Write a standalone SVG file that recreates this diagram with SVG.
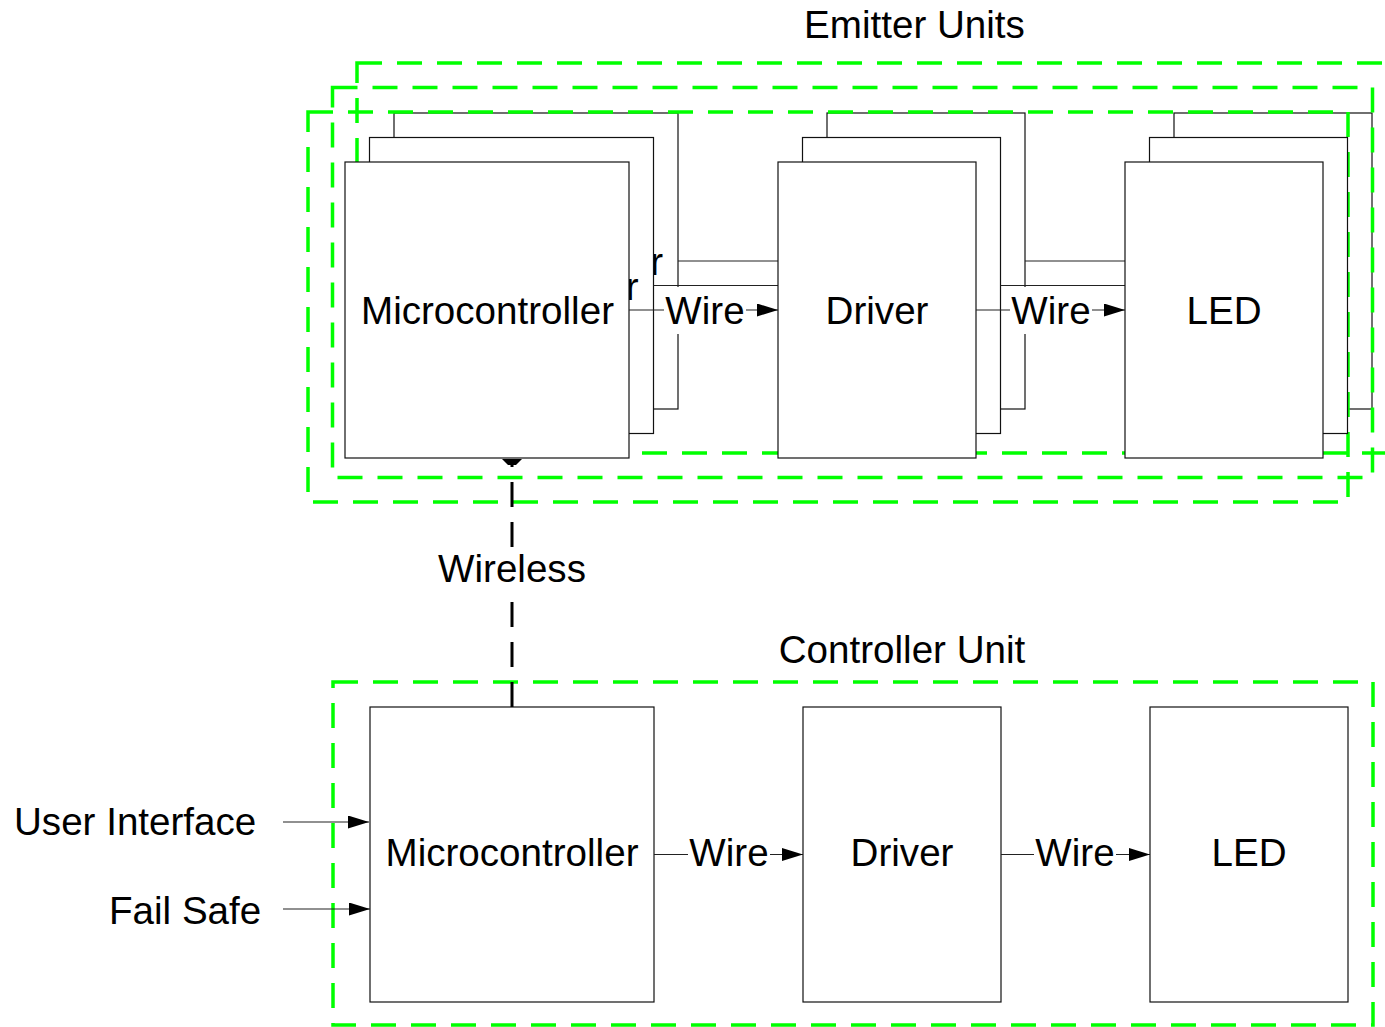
<svg xmlns="http://www.w3.org/2000/svg" width="1385" height="1027" viewBox="0 0 1385 1027">
<defs>
<marker id="arr" markerUnits="userSpaceOnUse" markerWidth="22" markerHeight="14" refX="21" refY="6.5" orient="auto">
<path d="M0,0 L21,6.5 L0,13 z" fill="#000"/>
</marker>
<style>
.box{fill:#fff;stroke:#111;stroke-width:1.2}
.grp{fill:none;stroke:#00ff00;stroke-width:3.5;stroke-dasharray:25 15}
.wire{fill:none;stroke:#222;stroke-width:1.2;marker-end:url(#arr)}
.t{font-family:"Liberation Sans",Arial,sans-serif;font-size:38.6px;fill:#000;text-anchor:middle}
.bg{fill:#fff}
</style>
</defs>
<rect width="1385" height="1027" fill="#fff"/>

<!-- titles -->
<text class="t" x="914.5" y="37.5">Emitter Units</text>
<text class="t" x="902" y="663">Controller Unit</text>

<!-- back emitter layer (C) -->
<g transform="translate(49,-49)">
<g id="emitter3-micro"><rect class="box" x="345" y="162" width="284" height="296"/><text class="t" x="614" y="324" style="text-anchor:end">r</text></g>
<g id="emitter3-driver"><rect class="box" x="778" y="162" width="198" height="296"/></g>
<g id="emitter3-led"><rect class="box" x="1125" y="162" width="198" height="296"/></g>
<g id="connectors-emitter3">
<line class="wire" x1="629" y1="310" x2="778" y2="310"/>
<line class="wire" x1="976" y1="310" x2="1125" y2="310"/>
</g>
</g>

<!-- group frames -->
<g id="emitter-frames">
<rect class="grp" x="357" y="63" width="1040" height="390"/>
<rect class="grp" x="332.5" y="87.5" width="1040" height="390"/>
<rect class="grp" x="308" y="112" width="1040" height="390"/>
</g>

<!-- middle emitter layer (B) -->
<g transform="translate(24.5,-24.5)">
<g id="emitter2-micro"><rect class="box" x="345" y="162" width="284" height="296"/><text class="t" x="614" y="324" style="text-anchor:end">r</text></g>
<g id="emitter2-driver"><rect class="box" x="778" y="162" width="198" height="296"/></g>
<g id="emitter2-led"><rect class="box" x="1125" y="162" width="198" height="296"/></g>
<g id="connectors-emitter2">
<line class="wire" x1="629" y1="310" x2="778" y2="310"/>
<line class="wire" x1="976" y1="310" x2="1125" y2="310"/>
</g>
</g>

<!-- front emitter layer (A) -->
<g id="emitter1-micro"><rect class="box" x="345" y="162" width="284" height="296"/><text class="t" x="487.5" y="324">Microcontroller</text></g>
<g id="emitter1-driver"><rect class="box" x="778" y="162" width="198" height="296"/><text class="t" x="877" y="324">Driver</text></g>
<g id="emitter1-led"><rect class="box" x="1125" y="162" width="198" height="296"/><text class="t" x="1224" y="324">LED</text></g>
<g id="connectors-emitter1">
<line class="wire" x1="629" y1="310" x2="778" y2="310"/>
<rect class="bg" x="664" y="287" width="82" height="47"/>
<text class="t" x="705" y="324">Wire</text>
<line class="wire" x1="976" y1="310" x2="1125" y2="310"/>
<rect class="bg" x="1010" y="287" width="82" height="47"/>
<text class="t" x="1051" y="324">Wire</text>
</g>

<!-- controller unit -->
<g id="controller-frame"><rect class="grp" x="333" y="682" width="1040" height="343"/></g>
<g id="controller-micro"><rect class="box" x="370" y="707" width="284" height="295"/><text class="t" x="512" y="866">Microcontroller</text></g>
<g id="controller-driver"><rect class="box" x="803" y="707" width="198" height="295"/><text class="t" x="902" y="866">Driver</text></g>
<g id="controller-led"><rect class="box" x="1150" y="707" width="198" height="295"/><text class="t" x="1249" y="866">LED</text></g>
<g id="input-labels">
<text class="t" x="14" y="835" style="text-anchor:start">User Interface</text>
<text class="t" x="109" y="924" style="text-anchor:start">Fail Safe</text>
</g>

<g id="connectors-controller">
<line class="wire" x1="654" y1="854.5" x2="803" y2="854.5"/>
<rect class="bg" x="688" y="832" width="82" height="47"/>
<text class="t" x="729" y="866">Wire</text>
<line class="wire" x1="1001" y1="854.5" x2="1150" y2="854.5"/>
<rect class="bg" x="1034" y="832" width="82" height="47"/>
<text class="t" x="1075" y="866">Wire</text>
<line class="wire" x1="283" y1="822" x2="369" y2="822"/>
<line class="wire" x1="283" y1="909" x2="370" y2="909"/>
<line x1="512" y1="707" x2="512" y2="460" stroke="#000" stroke-width="3" stroke-dasharray="25 15"/>
<polygon points="502,459 522,459 516,465 508,465" fill="#000"/>
<rect class="bg" x="436" y="548" width="152" height="50"/>
<text class="t" x="512" y="582">Wireless</text>
</g>
</svg>
